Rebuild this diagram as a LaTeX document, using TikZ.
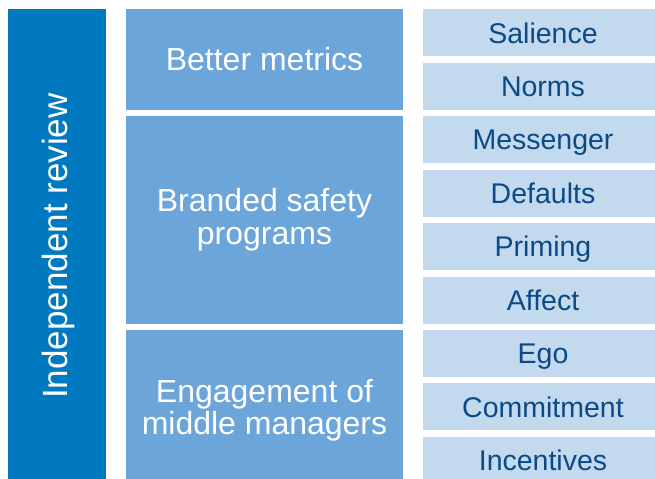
\documentclass[tikz,border=0pt]{standalone}
\usepackage{fontspec}
\setmainfont{Liberation Sans}
\definecolor{bardark}{HTML}{0079C1}
\definecolor{midblue}{HTML}{6CA5DA}
\definecolor{lightblue}{HTML}{C2D9EE}
\definecolor{navytext}{HTML}{0B4A87}
\begin{document}
\begin{tikzpicture}[x=1bp,y=-1bp,
  box/.style={draw=none,rectangle,inner sep=0pt,outer sep=0pt,anchor=north west},
  leftbox/.style={box,fill=bardark},
  midbox/.style={box,fill=midblue},
  rightbox/.style={box,fill=lightblue,minimum width=240bp,minimum height=47bp,
     text=navytext,font=\fontsize{28.5bp}{30bp}\selectfont,text height=20.4bp,text depth=0pt},
  midtext/.style={anchor=base,inner sep=0pt,text=white,font=\fontsize{32bp}{33bp}\selectfont},
  lefttext/.style={anchor=base,inner sep=0pt,text=white,rotate=90,font=\fontsize{35bp}{36bp}\selectfont}
]
\useasboundingbox (0,0) rectangle (655,479);
\begin{scope}
\clip (0,0) rectangle (655,479);
% left bar
\node[leftbox,minimum width=98bp,minimum height=475bp] (lb) at (8,9) {};
% middle boxes
\node[midbox,minimum width=277bp,minimum height=101bp] (m1) at (126,9) {};
\node[midbox,minimum width=277bp,minimum height=207.2bp] (m2) at (126,116.3) {};
\node[midbox,minimum width=277bp,minimum height=160bp] (m3) at (126,329.9) {};
% right boxes
\node[rightbox] (r1) at (423,9.5) {Salience};
\node[rightbox] (r2) at (423,62.9) {Norms};
\node[rightbox] (r3) at (423,116.3) {Messenger};
\node[rightbox] (r4) at (423,169.7) {Defaults};
\node[rightbox] (r5) at (423,223.1) {Priming};
\node[rightbox] (r6) at (423,276.5) {Affect};
\node[rightbox] (r7) at (423,329.9) {Ego};
\node[rightbox] (r8) at (423,383.3) {Commitment};
\node[rightbox] (r9) at (423,436.7) {Incentives};
\end{scope}
% texts
\node[lefttext] (lt) at (67,246) {Independent review};
\node[midtext] (t1) at (264.5,70.5) {Better metrics};
\node[midtext] (t2a) at (264.5,212) {Branded safety};
\node[midtext] (t2b) at (264.5,244.5) {programs};
\node[midtext] (t3a) at (264.5,402) {Engagement of};
\node[midtext] (t3b) at (264.5,434.5) {middle managers};
\end{tikzpicture}
\end{document}
